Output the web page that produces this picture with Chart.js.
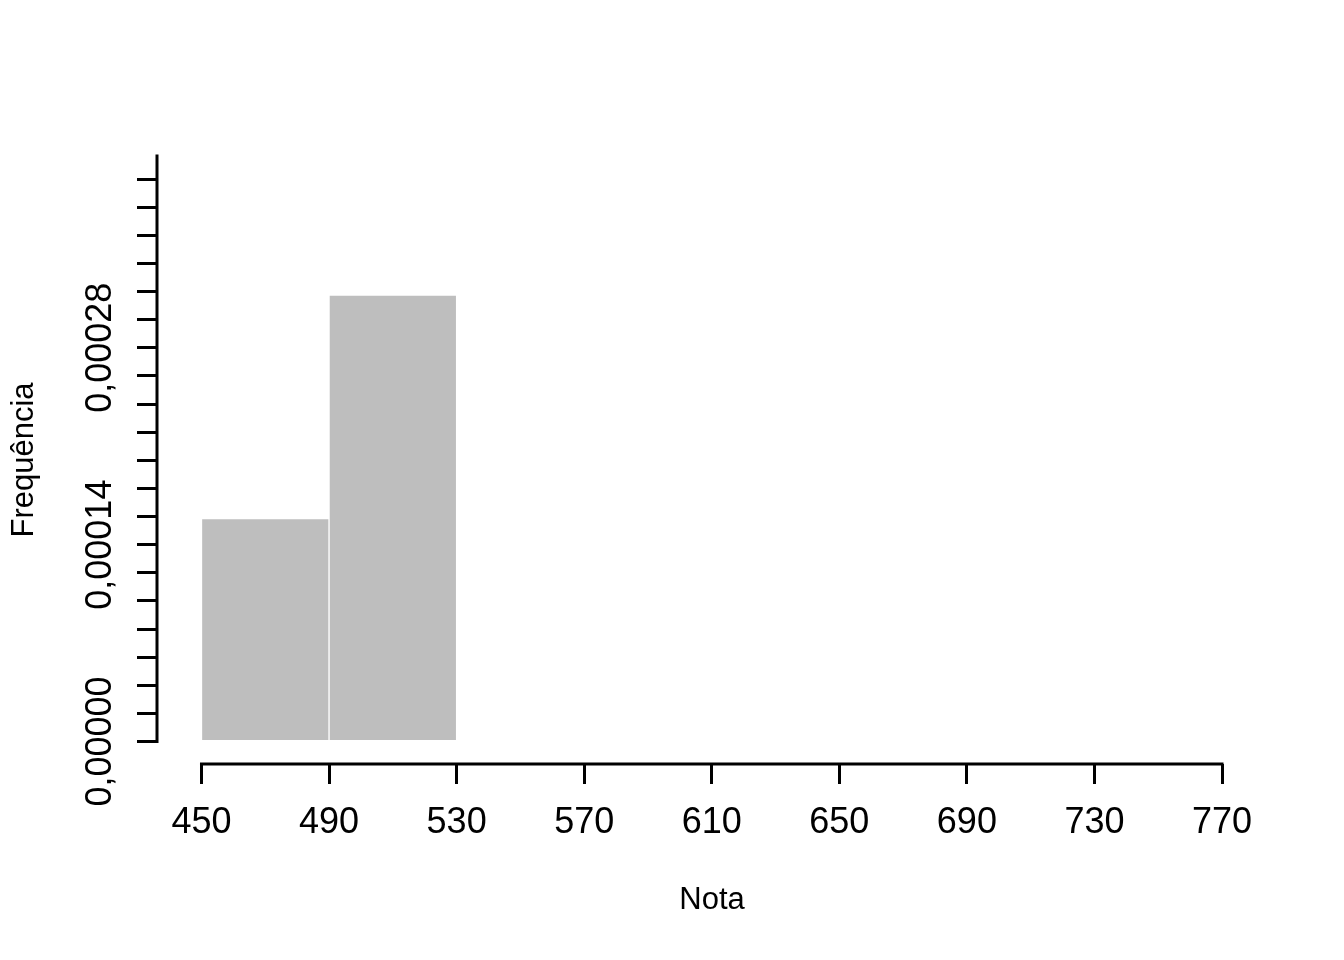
<!DOCTYPE html>
<html lang="pt">
<head>
<meta charset="utf-8">
<title>Histograma - Nota</title>
<script src="https://cdn.jsdelivr.net/npm/chart.js@4"></script>
<style>
  html, body { margin: 0; padding: 0; background: #ffffff; }
  #wrap { width: 1344px; height: 960px; }
</style>
</head>
<body>
<div id="wrap"><canvas id="histChart" width="1344" height="960"></canvas></div>
<script>
// Dados do histograma
const binCenters = [470, 510];                 // classes 450-490 e 490-530
const binDensity = [0.0001585, 0.0003175];     // altura das barras

// Marcas dos eixos
const xTickValues = [450, 490, 530, 570, 610, 650, 690, 730, 770];
const yTickValues = [0, 0.00002, 0.00004, 0.00006, 0.00008, 0.0001, 0.00012, 0.00014,
  0.00016, 0.00018, 0.0002, 0.00022, 0.00024, 0.00026, 0.00028, 0.0003, 0.00032,
  0.00034, 0.00036, 0.00038, 0.0004];
const yLabelValues = [0, 0.00014, 0.00028];
const yTickLabels = ['0,00000', '0,00014', '0,00028'];

const xTitle = 'Nota';
const yTitle = 'Frequência';

const FONT = '"Liberation Sans", Arial, Helvetica, sans-serif';

// Desenha as linhas dos eixos só entre a primeira e a última marca (estilo R)
const axisLinesPlugin = {
  id: 'axisLines',
  afterDraw(chart) {
    const { ctx, chartArea, scales } = chart;
    ctx.save();
    ctx.strokeStyle = '#000000';
    ctx.lineWidth = 3;
    ctx.lineCap = 'square';
    ctx.beginPath();
    ctx.moveTo(scales.x.getPixelForValue(xTickValues[0]), chartArea.bottom);
    ctx.lineTo(scales.x.getPixelForValue(xTickValues[xTickValues.length - 1]), chartArea.bottom);
    ctx.moveTo(chartArea.left, scales.y.getPixelForValue(0));
    ctx.lineTo(chartArea.left, scales.y.getPixelForValue(scales.y.max));
    ctx.stroke();
    ctx.restore();
  }
};

const ctx = document.getElementById('histChart').getContext('2d');
new Chart(ctx, {
  type: 'bar',
  data: {
    datasets: [{
      data: binCenters.map((c, i) => ({ x: c, y: binDensity[i] })),
      backgroundColor: '#BEBEBE',
      borderColor: '#FFFFFF',
      borderWidth: 1,
      barPercentage: 1,
      categoryPercentage: 1
    }]
  },
  options: {
    responsive: false,
    animation: false,
    devicePixelRatio: 1,
    layout: { padding: { top: 156, right: 77, left: 0, bottom: 0 } },
    plugins: {
      legend: { display: false },
      tooltip: { enabled: false }
    },
    scales: {
      x: {
        type: 'linear',
        min: 436.05,
        max: 784.11,
        offset: false,
        afterBuildTicks: (scale) => { scale.ticks = xTickValues.map(v => ({ value: v })); },
        afterFit: (scale) => { scale.height = 196; },
        grid: {
          offset: false,
          drawOnChartArea: false,
          drawTicks: true,
          tickLength: 20,
          lineWidth: 3,
          color: '#000000'
        },
        border: { display: false },
        ticks: {
          autoSkip: false,
          maxRotation: 0,
          padding: 17,
          color: '#000000',
          font: { family: FONT, size: 36 },
          callback: (v) => String(v)
        },
        title: {
          display: true,
          text: xTitle,
          color: '#000000',
          font: { family: FONT, size: 31 },
          padding: { top: 0, bottom: 41 }
        }
      },
      y: {
        min: -0.000016,
        max: 0.0004164,
        afterBuildTicks: (scale) => { scale.ticks = yTickValues.map(v => ({ value: v })); },
        afterFit: (scale) => { scale.width = 157; },
        grid: {
          drawOnChartArea: false,
          drawTicks: true,
          tickLength: 20,
          lineWidth: 3,
          color: '#000000'
        },
        border: { display: false },
        ticks: {
          autoSkip: false,
          minRotation: 90,
          maxRotation: 90,
          crossAlign: 'center',
          padding: -29,
          color: '#000000',
          font: { family: FONT, size: 36 },
          callback: (value) => {
            const k = yLabelValues.findIndex(v => Math.abs(v - value) < 1e-9);
            return k >= 0 ? yTickLabels[k] : '';
          }
        },
        title: {
          display: true,
          text: yTitle,
          color: '#000000',
          font: { family: FONT, size: 31 },
          padding: { top: 6, bottom: 0 }
        }
      }
    }
  },
  plugins: [axisLinesPlugin]
});
</script>
</body>
</html>
